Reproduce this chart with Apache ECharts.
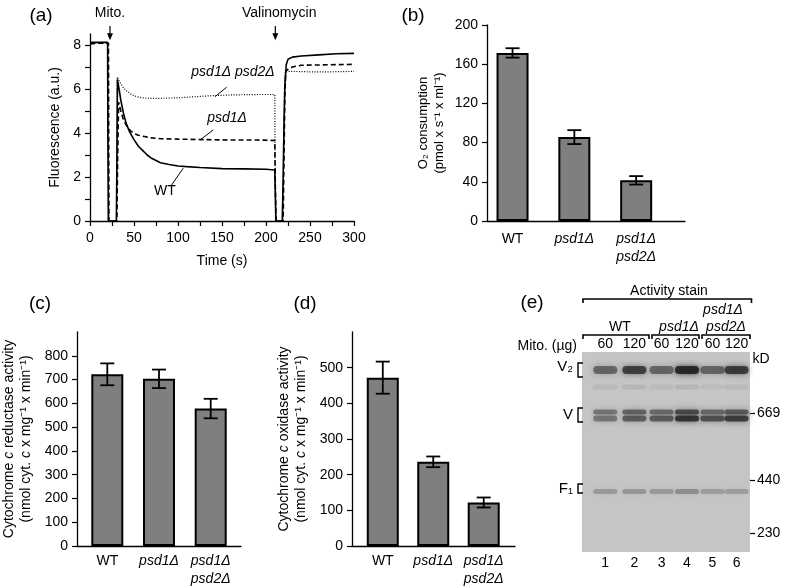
<!DOCTYPE html>
<html><head><meta charset="utf-8">
<script src="https://cdn.jsdelivr.net/npm/echarts@6/dist/echarts.min.js"></script>
<style>html,body{margin:0;padding:0;background:#fff}#c{width:785px;height:588px}</style>
</head><body><div id="c"></div>
<script>
const FONT = '"Liberation Sans", Arial, Helvetica, sans-serif';

// ---------- (a) fluorescence traces: [time (s), fluorescence (a.u.)]
const timeLabels = [0, 50, 100, 150, 200, 250, 300];
const timeTicks = [0, 25, 50, 75, 100, 125, 150, 175, 200, 225, 250, 275, 300];
const fluorLabels = [0, 2, 4, 6, 8];
const fluorTicks = [0, 1, 2, 3, 4, 5, 6, 7, 8];
const traceWT = [[0,8.12],[10,8.12],[20,8.12],[20.3,4],[20.8,0],[30,0],[30.6,3],[31.2,6.44],[33,6.0],[35,5.5],[38,4.9],[41,4.45],[45,4.05],[50,3.7],[55,3.4],[60,3.2],[65,3.0],[70,2.85],[80,2.65],[90,2.57],[100,2.5],[110,2.47],[125,2.43],[150,2.38],[175,2.37],[200,2.35],[210,2.32],[210.8,1],[211.3,0],[218.5,0],[219.5,2],[220.5,4.5],[221.5,6.2],[223,7.1],[225,7.35],[230,7.45],[240,7.5],[260,7.55],[280,7.6],[300,7.62]];
const tracePsd1 = [[0,8.05],[10,8.08],[21,8.08],[21.5,0],[30.5,0],[31.5,3],[32.5,5.4],[35,5.0],[38,4.6],[42,4.3],[46,4.1],[50,3.98],[55,3.9],[60,3.85],[70,3.78],[80,3.74],[100,3.72],[130,3.7],[160,3.68],[190,3.68],[210,3.66],[210.6,1.5],[211.5,0],[219.5,0],[220.5,3],[221.5,5.8],[222.5,6.8],[225,6.9],[230,7.0],[240,7.08],[270,7.1],[300,7.12]];
const tracePsd12 = [[0,8.1],[20,8.1],[21,8.05],[21.5,0],[30,0],[31,6.55],[34,6.3],[38,6.05],[42,5.9],[46,5.78],[50,5.7],[55,5.63],[60,5.6],[70,5.57],[85,5.58],[100,5.6],[120,5.65],[140,5.7],[160,5.73],[190,5.75],[210,5.75],[210.5,0.5],[211,0],[219,0],[220,3],[221,6],[222,6.8],[230,6.8],[250,6.78],[270,6.78],[300,6.8]];

// ---------- bar panels
const strains = ['WT', 'psd1Δ', 'psd1Δ\npsd2Δ'];
const o2Ticks = [0, 40, 80, 120, 160, 200];
const o2Values = [171.5, 85.6, 41.5];
const o2Errors = [4.8, 7.1, 4.3];
const reductaseTicks = [0, 100, 200, 300, 400, 500, 600, 700, 800];
const reductaseValues = [722, 703, 578];
const reductaseErrors = [46, 39, 41];
const oxidaseTicks = [0, 100, 200, 300, 400, 500];
const oxidaseValues = [472, 236, 122];
const oxidaseErrors = [45, 15, 14];

// ---------- (e) activity-stained gel
const laneNumbers = ['1', '2', '3', '4', '5', '6'];
const laneMito = ['60', '120', '60', '120', '60', '120'];
const laneCenters = [1.33, 2.37, 3.34, 4.25, 5.16, 6.02];
const complexNames = ['V₂', 'V', 'F₁'];
const complexMigration = [7.5, 31.5, 68.5];
const kdLabels = ['669', '440', '230'];
const kdMigration = [30.8, 64.2, 90.5];
const bandMigration = [9, 17.5, 30, 33.2, 69.7];
const bandV2 = [0.5, 0.72, 0.5, 0.88, 0.5, 0.74];
const bandFaint = [0.07, 0.09, 0.06, 0.09, 0.05, 0.07];
const bandVUpper = [0.42, 0.52, 0.48, 0.66, 0.48, 0.56];
const bandVLower = [0.42, 0.55, 0.56, 0.8, 0.62, 0.74];
const bandF1 = [0.24, 0.26, 0.24, 0.3, 0.22, 0.22];

const bandRows = [bandV2, bandFaint, bandVUpper, bandVLower, bandF1];
const bandThickPx = [8, 5, 5, 6, 5];
const gelData = [];
bandRows.forEach((row, r) => row.forEach((a, l) => gelData.push([laneCenters[l], bandMigration[r], a, r])));

const richBase = {
  n: { fontFamily: FONT, fontSize: 14, color: '#000', lineHeight: 18 },
  i: { fontFamily: FONT, fontSize: 14, color: '#000', fontStyle: 'italic', lineHeight: 18 }
};
function strainLabel(v) {
  const s = strains[Math.round(v)];
  if (s === 'WT') return '{n|WT}';
  return s.split('\n').map(p => '{i|' + p + '}').join('\n');
}
const axisLineStyle = { onZero: false, lineStyle: { color: '#000', width: 1.3 } };
const tickOut = (vals, len) => ({ show: true, inside: false, length: len || 5, customValues: vals, lineStyle: { color: '#000', width: 1.2 } });

function barX(grid, min, max) {
  return {
    type: 'value', gridIndex: grid, min: min, max: max,
    axisLine: axisLineStyle, axisTick: { show: false }, splitLine: { show: false },
    axisLabel: { customValues: [0, 1, 2], formatter: strainLabel, margin: grid === 1 ? 9 : 6, rich: richBase, lineHeight: 18 }
  };
}
function barY(grid, max, ticks, name, gap, fs) {
  return {
    type: 'value', gridIndex: grid, min: 0, max: max,
    axisLine: { show: true, onZero: false, lineStyle: { color: '#000', width: 1.3 } },
    axisTick: tickOut(ticks), splitLine: { show: false },
    axisLabel: { customValues: ticks, margin: 9, fontFamily: FONT, fontSize: 14, color: '#000' },
    name: name, nameLocation: 'middle', nameRotate: 90, nameGap: gap,
    nameTextStyle: {
      rich: {
        t: { fontFamily: FONT, fontSize: fs, color: '#000', lineHeight: fs + 3 },
        it: { fontFamily: FONT, fontSize: fs, color: '#000', fontStyle: 'italic', lineHeight: fs + 3 }
      }
    }
  };
}
function errRender(params, api) {
  const x = api.value(0), v = api.value(1), e = api.value(2);
  const top = api.coord([x, v + e]), bot = api.coord([x, v - e]);
  const w = 7;
  const style = { stroke: '#000', lineWidth: 1.8, fill: null };
  return { type: 'group', children: [
    { type: 'line', shape: { x1: top[0], y1: top[1], x2: bot[0], y2: bot[1] }, style: style },
    { type: 'line', shape: { x1: top[0] - w, y1: top[1], x2: top[0] + w, y2: top[1] }, style: style },
    { type: 'line', shape: { x1: bot[0] - w, y1: bot[1], x2: bot[0] + w, y2: bot[1] }, style: style }
  ]};
}
function barSeries(idx, vals) {
  return { type: 'bar', xAxisIndex: idx, yAxisIndex: idx, barWidth: 32,
    data: vals.map((v, i) => [i, v]),
    itemStyle: { color: '#7f7f7f', borderColor: '#000', borderWidth: 2 }, animation: false, silent: true };
}
function errSeries(idx, vals, errs) {
  return { type: 'custom', xAxisIndex: idx, yAxisIndex: idx, renderItem: errRender,
    data: vals.map((v, i) => [i, v, errs[i]]), encode: { x: 0, y: 1 }, z: 5, animation: false, silent: true };
}
function findIdx(arr, v) { return arr.findIndex(a => Math.abs(a - v) < 1e-6); }
const hidden = { show: false };

const chart = echarts.init(document.getElementById('c'), null, { renderer: 'canvas' });
const option = {
  animation: false,
  backgroundColor: '#fff',
  grid: [
    { left: 90, top: 34, width: 264, height: 187 },
    { left: 487, top: 25, width: 198, height: 196 },
    { left: 77, top: 332, width: 164, height: 216 },
    { left: 352, top: 332, width: 163, height: 216 },
    { left: 582, top: 352, width: 168, height: 200, show: true, backgroundColor: '#c5c5c5', borderWidth: 0 }
  ],
  xAxis: [
    { type: 'value', gridIndex: 0, min: 0, max: 300, axisLine: axisLineStyle, splitLine: hidden,
      axisTick: tickOut(timeTicks), axisLabel: { customValues: timeLabels, margin: 10, fontFamily: FONT, fontSize: 14, color: '#000' },
      name: 'Time (s)', nameLocation: 'middle', nameGap: 33, nameTextStyle: { fontFamily: FONT, fontSize: 14, color: '#000' } },
    barX(1, -0.413, 2.79),
    barX(2, -0.586, 2.586),
    barX(3, -0.61, 2.62),
    { type: 'value', gridIndex: 4, min: 0.5, max: 6.5, position: 'bottom', axisLine: { show: false, onZero: false }, axisTick: hidden, splitLine: hidden,
      axisLabel: { customValues: laneCenters, formatter: v => laneNumbers[findIdx(laneCenters, v)], margin: 4, fontFamily: FONT, fontSize: 14, color: '#000' } },
    { type: 'value', gridIndex: 4, min: 0.5, max: 6.5, position: 'top', axisLine: { show: false, onZero: false }, axisTick: hidden, splitLine: hidden,
      axisLabel: { customValues: laneCenters, formatter: v => laneMito[findIdx(laneCenters, v)], margin: 1, fontFamily: FONT, fontSize: 14, color: '#000' } }
  ],
  yAxis: [
    { type: 'value', gridIndex: 0, min: 0, max: 8.5, axisLine: { show: true, onZero: false, lineStyle: { color: '#000', width: 1.3 } }, splitLine: hidden,
      axisTick: tickOut(fluorTicks), axisLabel: { customValues: fluorLabels, margin: 9, fontFamily: FONT, fontSize: 14, color: '#000' },
      name: 'Fluorescence (a.u.)', nameLocation: 'middle', nameRotate: 90, nameGap: 28, nameTextStyle: { fontFamily: FONT, fontSize: 14, color: '#000' } },
    barY(1, 200, o2Ticks, '{t|O₂ consumption}\n{t|(pmol x s⁻¹ x ml⁻¹)}', 40, 13),
    barY(2, 900, reductaseTicks, '{t|Cytochrome }{it|c}{t| reductase activity}\n{t|(nmol cyt. }{it|c}{t| x mg⁻¹ x min⁻¹)}', 42, 14),
    barY(3, 600, oxidaseTicks, '{t|Cytochrome }{it|c}{t| oxidase activity}\n{t|(nmol cyt. }{it|c}{t| x mg⁻¹ x min⁻¹)}', 42, 14),
    { type: 'value', gridIndex: 4, min: 0, max: 100, inverse: true, position: 'left', axisLine: { show: false, onZero: false }, axisTick: hidden, splitLine: hidden,
      axisLabel: { customValues: complexMigration, formatter: v => complexNames[findIdx(complexMigration, v)], margin: 9, fontFamily: FONT, fontSize: 15, color: '#000' } },
    { type: 'value', gridIndex: 4, min: 0, max: 100, inverse: true, position: 'right', axisLine: { show: false, onZero: false }, splitLine: hidden,
      axisTick: tickOut(kdMigration, 5),
      axisLabel: { customValues: kdMigration, formatter: v => kdLabels[findIdx(kdMigration, v)], margin: 7, fontFamily: FONT, fontSize: 14, color: '#000' } }
  ],
  series: [
    { type: 'line', xAxisIndex: 0, yAxisIndex: 0, data: tracePsd12, showSymbol: false, symbol: 'none', lineStyle: { color: '#000', width: 1.2, type: [1, 1.6] }, silent: true },
    { type: 'line', xAxisIndex: 0, yAxisIndex: 0, data: tracePsd1, showSymbol: false, symbol: 'none', lineStyle: { color: '#000', width: 1.6, type: [5, 3] }, silent: true },
    { type: 'line', xAxisIndex: 0, yAxisIndex: 0, data: traceWT, showSymbol: false, symbol: 'none', lineStyle: { color: '#000', width: 1.6 }, silent: true },
    barSeries(1, o2Values), errSeries(1, o2Values, o2Errors),
    barSeries(2, reductaseValues), errSeries(2, reductaseValues, reductaseErrors),
    barSeries(3, oxidaseValues), errSeries(3, oxidaseValues, oxidaseErrors),
    { type: 'custom', xAxisIndex: 4, yAxisIndex: 4, data: gelData, encode: { x: 0, y: 1 }, silent: true,
      renderItem: function (params, api) {
        const c = api.coord([api.value(0), api.value(1)]);
        const halfW = api.size([0.86, 0])[0] / 2;
        const h = bandThickPx[api.value(3)];
        const a = api.value(2);
        return { type: 'rect', shape: { x: c[0] - halfW, y: c[1] - h / 2, width: halfW * 2, height: h, r: h / 2 },
          style: { fill: 'rgba(30,30,30,' + a + ')', shadowBlur: 6, shadowColor: 'rgba(30,30,30,' + a + ')' } };
      } }
  ]
};
chart.setOption(option);

// ---------- annotations
const pa = (x, y) => chart.convertToPixel({ gridIndex: 0 }, [x, y]);
const pe = (x, y) => chart.convertToPixel({ gridIndex: 4 }, [x, y]);
const g = [];
function text(x, y, s, size, opt) {
  g.push({ type: 'text', x: x, y: y, silent: true, style: Object.assign({ text: s, fontFamily: FONT, fontSize: size, fill: '#000', align: 'center', verticalAlign: 'middle' }, opt || {}) });
}
function line(pts, w) {
  g.push({ type: 'polyline', silent: true, shape: { points: pts }, style: { stroke: '#000', lineWidth: w || 1.2, fill: null } });
}
function arrow(t) {
  const a = pa(t, 8.86), b = pa(t, 8.22);
  line([a, [b[0], b[1] - 5]], 1.2);
  g.push({ type: 'polygon', silent: true, shape: { points: [[b[0] - 3, b[1] - 7], [b[0] + 3, b[1] - 7], [b[0], b[1]]] }, style: { fill: '#000' } });
}
// panel letters
text(41, 16, '(a)', 19); text(413, 16, '(b)', 19); text(40, 304, '(c)', 19); text(305, 304, '(d)', 19); text(532, 303, '(e)', 19);
// (a)
arrow(22.7); arrow(210.6);
text(pa(22.7, 0)[0], 13, 'Mito.', 14);
text(pa(215, 0)[0], 13, 'Valinomycin', 14);
let q = pa(162.5, 6.77); text(q[0], q[1], 'psd1Δ psd2Δ', 14, { fontStyle: 'italic' });
q = pa(155.7, 4.68); text(q[0], q[1], 'psd1Δ', 14, { fontStyle: 'italic' });
q = pa(85, 1.36); text(q[0], q[1], 'WT', 14);
line([pa(142, 5.65), pa(155.3, 6.08)], 1);
line([pa(125, 3.68), pa(140, 4.14)], 1);
line([pa(92.8, 1.64), pa(106, 2.4)], 1);
// (e)
text(669, 291, 'Activity stain', 14);
line([[583, 303], [583, 299], [751.5, 299], [751.5, 303]], 1.6);
text(723, 310, 'psd1Δ', 14, { fontStyle: 'italic' });
text(620, 327, 'WT', 14);
text(679, 327, 'psd1Δ', 14, { fontStyle: 'italic' });
text(726, 327, 'psd2Δ', 14, { fontStyle: 'italic' });
[[583, 649], [652, 699], [702, 750]].forEach(r => line([[r[0], 339], [r[0], 335], [r[1], 335], [r[1], 339]], 1.6));
text(577, 346, 'Mito. (µg)', 14, { align: 'right' });
text(761, 359, 'kD', 14);
// complex brackets
[[5.5, 12.5], [28, 35], [66, 70.5]].forEach(r => {
  const t = pe(0.5, r[0]), b = pe(0.5, r[1]);
  line([[t[0] + 1, t[1]], [t[0] - 4, t[1]], [t[0] - 4, b[1]], [t[0] + 1, b[1]]], 1.4);
});
chart.setOption({ graphic: g });
</script>
</body></html>
